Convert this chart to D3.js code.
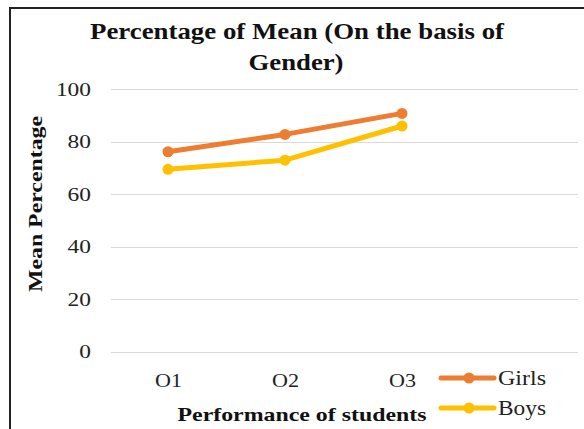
<!DOCTYPE html>
<html>
<head>
<meta charset="utf-8">
<script src="https://cdn.jsdelivr.net/npm/d3@7"></script>
<style>
  html, body { margin: 0; padding: 0; background: #fff; }
  svg { display: block; }
</style>
</head>
<body>
<svg id="chart" width="584" height="429"></svg>
<script>
const categories = ["O1", "O2", "O3"];
const girls = [76.1, 82.7, 90.7];
const boys = [69.4, 72.9, 85.9];
const yTicks = [0, 20, 40, 60, 80, 100];
const seriesNames = ["Girls", "Boys"];
const seriesColors = ["#ED7D31", "#FFC000"];

const svg = d3.select("#chart");
const font = "Liberation Serif";

function stretch(sel, len) {
  sel.attr("textLength", len).attr("lengthAdjust", "spacingAndGlyphs");
}

// outer border
svg.append("rect")
  .attr("x", 10).attr("y", 8).attr("width", 590).attr("height", 440)
  .attr("fill", "none").attr("stroke", "#222").attr("stroke-width", 2);

const y = d3.scaleLinear().domain([0, 100]).range([351.5, 89]);
const x = d3.scalePoint().domain(categories).range([168, 402]);

// gridlines
svg.append("g").selectAll("line").data(yTicks).join("line")
  .attr("x1", 111).attr("x2", 578)
  .attr("y1", d => Math.round(y(d)) + 0.5).attr("y2", d => Math.round(y(d)) + 0.5)
  .attr("stroke", "#d9d9d9").attr("stroke-width", 1);

// y axis labels
const yAxis = d3.axisLeft(y).tickValues(yTicks).tickSize(0).tickPadding(0);
const yg = svg.append("g").attr("transform", "translate(91,0)").call(yAxis);
yg.attr("font-family", font);
yg.select(".domain").remove();
yg.selectAll("text")
  .attr("font-family", font).attr("font-size", 19).attr("fill", "#222").attr("dy", "0.34em")
  .each(function(d) { stretch(d3.select(this), String(d).length * 11.7); });

// x axis labels
const xAxis = d3.axisBottom(x).tickSize(0).tickPadding(0);
const xg = svg.append("g").attr("transform", "translate(0,373)").call(xAxis);
xg.attr("font-family", font);
xg.select(".domain").remove();
xg.selectAll("text")
  .attr("font-family", font).attr("font-size", 19).attr("fill", "#222").attr("dy", "0.72em")
  .call(stretch, 27);

// lines and markers
const data = [girls, boys];
const line = d3.line().x((d, i) => x(categories[i])).y(d => y(d));
data.forEach((vals, si) => {
  svg.append("path").datum(vals)
    .attr("d", line)
    .attr("fill", "none")
    .attr("stroke", seriesColors[si])
    .attr("stroke-width", 5)
    .attr("stroke-linejoin", "round")
    .attr("stroke-linecap", "round");
  svg.append("g").selectAll("circle").data(vals).join("circle")
    .attr("cx", (d, i) => x(categories[i]))
    .attr("cy", d => y(d))
    .attr("r", 5.5)
    .attr("fill", seriesColors[si]);
});

// title
const t1 = svg.append("text")
  .attr("x", 297).attr("y", 39)
  .attr("font-family", font).attr("font-size", 24).attr("font-weight", "bold")
  .attr("fill", "#111").attr("text-anchor", "middle")
  .text("Percentage of Mean (On the basis of");
stretch(t1, 414);
const t2 = svg.append("text")
  .attr("x", 296).attr("y", 70)
  .attr("font-family", font).attr("font-size", 24).attr("font-weight", "bold")
  .attr("fill", "#111").attr("text-anchor", "middle")
  .text("Gender)");
stretch(t2, 95);

// axis titles
const xt = svg.append("text")
  .attr("x", 302).attr("y", 421)
  .attr("font-family", font).attr("font-size", 19).attr("font-weight", "bold")
  .attr("fill", "#111").attr("text-anchor", "middle")
  .text("Performance of students");
stretch(xt, 249);

const yt = svg.append("text")
  .attr("transform", "translate(42,204) rotate(-90)")
  .attr("font-family", font).attr("font-size", 19).attr("font-weight", "bold")
  .attr("fill", "#111").attr("text-anchor", "middle")
  .text("Mean Percentage");
stretch(yt, 176);

// legend
const legendY = [378, 408];
seriesNames.forEach((name, i) => {
  const g = svg.append("g");
  g.append("line").attr("x1", 441).attr("x2", 494)
    .attr("y1", legendY[i]).attr("y2", legendY[i])
    .attr("stroke", seriesColors[i]).attr("stroke-width", 5).attr("stroke-linecap", "round");
  g.append("circle").attr("cx", 469).attr("cy", legendY[i]).attr("r", 5.5).attr("fill", seriesColors[i]);
  const lt = g.append("text").attr("x", 498).attr("y", legendY[i] + 7)
    .attr("font-family", font).attr("font-size", 20).attr("fill", "#222")
    .text(name);
  stretch(lt, 48);
});
</script>
</body>
</html>
